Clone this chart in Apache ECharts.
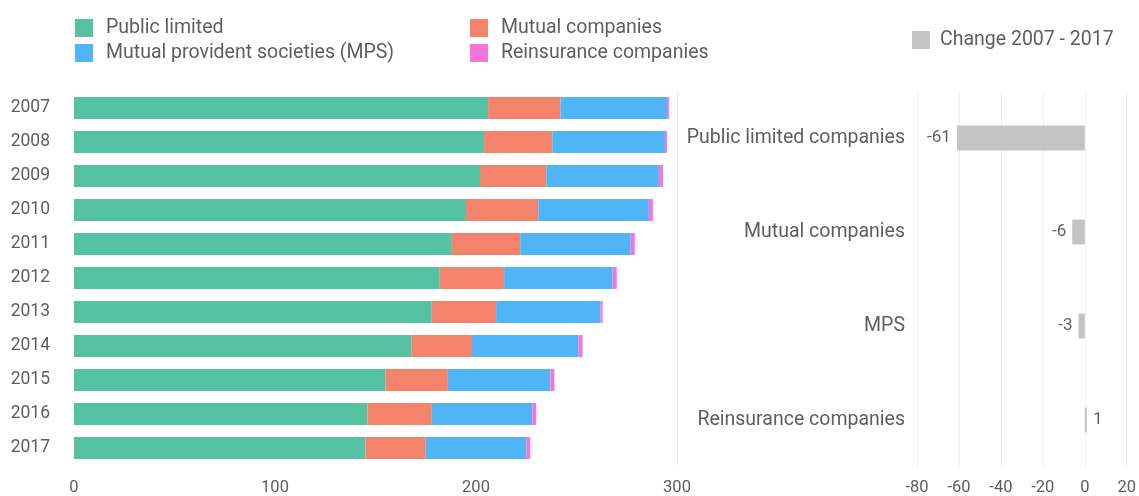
<!DOCTYPE html>
<html>
<head>
<meta charset="utf-8">
<script src="https://cdn.jsdelivr.net/npm/echarts@6/dist/echarts.min.js"></script>
<style>
  html, body { margin: 0; padding: 0; background: #ffffff; }
  #chart { width: 1139px; height: 496px; }
</style>
</head>
<body>
<div id="chart"></div>
<script>
// Number of insurance companies by legal form, 2007 - 2017
const years = ['2007', '2008', '2009', '2010', '2011', '2012', '2013', '2014', '2015', '2016', '2017'];
const publicLimited = [206, 204, 202, 195, 188, 182, 178, 168, 155, 146, 145];
const mutualCompanies = [36, 34, 33, 36, 34, 32, 32, 30, 31, 32, 30];
const mutualProvident = [53, 56, 56, 55, 55, 54, 52, 53, 51, 50, 50];
const reinsurance = [1, 1, 2, 2, 2, 2, 1, 2, 2, 2, 2];

// Net change between 2007 and 2017 per legal form
const changeCategories = ['Public limited companies', 'Mutual companies', 'MPS', 'Reinsurance companies'];
const changeValues = [-61, -6, -3, 1];

const leftTicks = [0, 100, 200, 300];
const rightTicks = [-80, -60, -40, -20, 0, 20];

const textColor = '#605e5c';
const fontFamily = 'Roboto, "DejaVu Sans", sans-serif';
const colors = {
  publicLimited: '#55c2a2',
  mutual: '#f4836b',
  mps: '#4fb5f7',
  reinsurance: '#f575dc',
  change: '#c4c4c4'
};

const chart = echarts.init(document.getElementById('chart'), null, { renderer: 'canvas' });

function stackSeries(name, data, color) {
  return {
    name: name,
    type: 'bar',
    stack: 'total',
    xAxisIndex: 0,
    yAxisIndex: 0,
    barWidth: 22,
    itemStyle: { color: color },
    emphasis: { disabled: true },
    data: data
  };
}

const legendText = { color: textColor, fontSize: 19.5, fontFamily: fontFamily, padding: [0, 0, 0, 8] };

chart.setOption({
  backgroundColor: '#ffffff',
  animation: false,
  legend: [
    {
      left: 75, top: 18, padding: 0, orient: 'vertical', itemWidth: 18, itemHeight: 18, itemGap: 5,
      icon: 'rect', textStyle: legendText, selectedMode: false,
      data: ['Public limited', 'Mutual provident societies (MPS)']
    },
    {
      left: 470, top: 18, padding: 0, orient: 'vertical', itemWidth: 18, itemHeight: 18, itemGap: 5,
      icon: 'rect', textStyle: legendText, selectedMode: false,
      data: ['Mutual companies', 'Reinsurance companies']
    },
    {
      left: 912, top: 30, padding: 0, itemWidth: 18, itemHeight: 18,
      icon: 'rect', textStyle: Object.assign({}, legendText, { padding: [0, 0, 0, 5] }), selectedMode: false,
      data: ['Change 2007 - 2017']
    }
  ],
  grid: [
    { left: 74, width: 603, top: 91, height: 374 },
    { left: 917, width: 212, top: 91, height: 376 }
  ],
  xAxis: [
    {
      gridIndex: 0, type: 'value', min: leftTicks[0], max: leftTicks[leftTicks.length - 1], interval: 100,
      axisLine: { show: false }, axisTick: { show: false },
      // only the outer boundary line at 300 is drawn
      splitLine: { show: true, lineStyle: { color: ['transparent', 'transparent', 'transparent', '#e8e8e8'], width: 1 } },
      axisLabel: { color: textColor, fontSize: 16.5, fontFamily: fontFamily, margin: 14 }
    },
    {
      gridIndex: 1, type: 'value', min: rightTicks[0], max: rightTicks[rightTicks.length - 1], interval: 20,
      axisLine: { show: false }, axisTick: { show: false },
      splitLine: { show: true, lineStyle: { color: '#f0f0f0', width: 1 } },
      axisLabel: { color: textColor, fontSize: 16.5, fontFamily: fontFamily, margin: 12 }
    }
  ],
  yAxis: [
    {
      gridIndex: 0, type: 'category', data: years, inverse: true,
      axisLine: { show: false }, axisTick: { show: false },
      axisLabel: { color: textColor, fontSize: 17.5, fontFamily: fontFamily, margin: 24 }
    },
    {
      gridIndex: 1, type: 'category', data: changeCategories, inverse: true,
      axisLine: { show: false }, axisTick: { show: false },
      axisLabel: { color: textColor, fontSize: 19.5, fontFamily: fontFamily, margin: 12 }
    }
  ],
  series: [
    stackSeries('Public limited', publicLimited, colors.publicLimited),
    stackSeries('Mutual companies', mutualCompanies, colors.mutual),
    stackSeries('Mutual provident societies (MPS)', mutualProvident, colors.mps),
    stackSeries('Reinsurance companies', reinsurance, colors.reinsurance),
    {
      name: 'Change 2007 - 2017',
      type: 'bar',
      xAxisIndex: 1,
      yAxisIndex: 1,
      barWidth: 25,
      itemStyle: { color: colors.change },
      emphasis: { disabled: true },
      data: changeValues.map(v => ({
        value: v,
        label: {
          show: true,
          position: v < 0 ? 'left' : 'right',
          distance: 6,
          color: textColor,
          fontSize: 17,
          fontFamily: fontFamily
        }
      }))
    }
  ]
});
</script>
</body>
</html>
